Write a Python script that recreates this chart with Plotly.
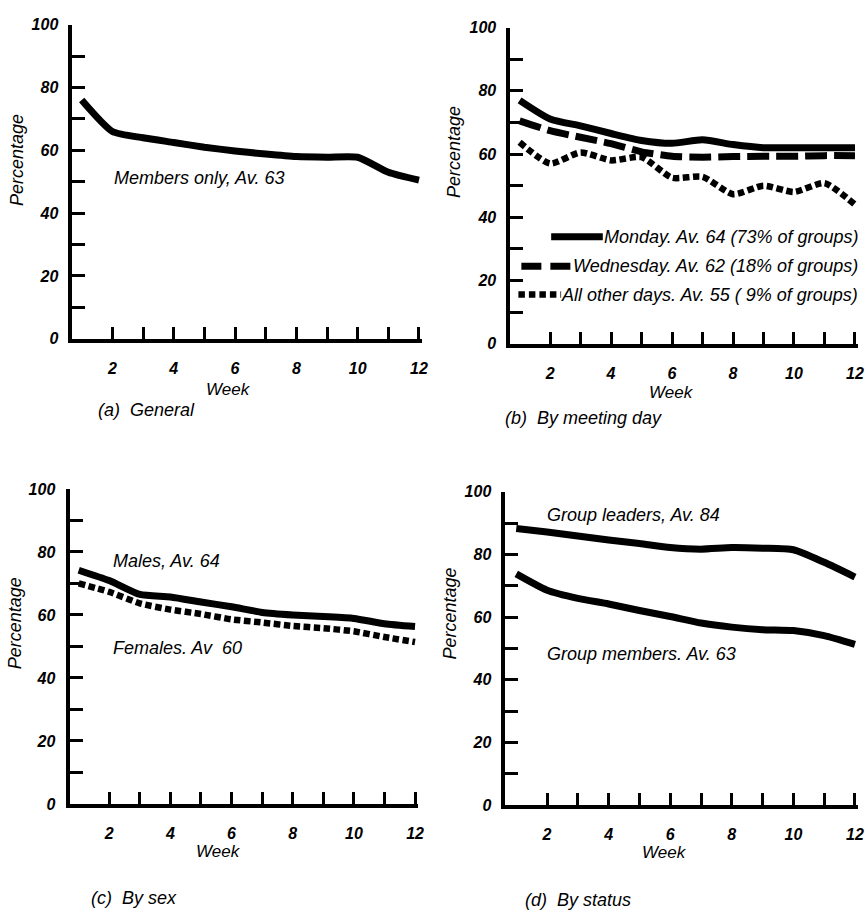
import plotly.graph_objects as go

W, H = 868, 918

weeks = list(range(1, 13))

# (a) General
general_members = [76, 66, 64, 62.5, 61, 59.8, 58.8, 58, 57.8, 57.8, 53, 50.5]

# (b) By meeting day
monday = [77, 71.1, 68.9, 66.5, 64.3, 63.4, 64.5, 63, 62, 62, 62, 62]
wednesday = [70.5, 67.4, 65.3, 63.3, 60.7, 59.3, 59, 59.2, 59.3, 59.3, 59.5, 59.5]
other_days = [63.7, 57, 60.5, 58, 59, 52.5, 52.8, 47.3, 50, 48, 50.8, 44]

# (c) By sex
males = [74.2, 70.9, 66.5, 65.7, 64.1, 62.6, 60.8, 60, 59.5, 58.9, 57.2, 56.3]
females = [70, 67.3, 63.7, 61.7, 60.3, 58.6, 57.6, 56.5, 55.8, 54.8, 53, 51.4]

# (d) By status
leaders = [88.3, 87.2, 85.9, 84.6, 83.5, 82.2, 81.7, 82.2, 82, 81.5, 77.5, 72.8]
members = [73.8, 68.6, 66, 64.2, 62.1, 60.2, 58.1, 56.8, 56, 55.7, 54.1, 51.3]

x_tickvals = list(range(2, 13))
x_ticktext = [str(w) if w % 2 == 0 else "" for w in x_tickvals]
y_tickvals = list(range(0, 101, 10))
y_ticktext = [str(v) if v % 20 == 0 else "" for v in y_tickvals]

FONT = "Liberation Sans, Arial, sans-serif"

fig = go.Figure()

# panel pixel boxes: (left, right, top(y=100), bottom(y=0)), x range start
panels = {
    "a": dict(l=73, r=425, t=17, b=337, x0=0.7),
    "b": dict(l=514, r=864, t=20, b=342, x0=0.7),
    "c": dict(l=70, r=421, t=490, b=811, x0=0.7),
    "d": dict(l=509, r=864, t=493, b=812, x0=0.65),
}

def px_x(v):
    return v / W

def px_y(v):
    return 1 - v / H

axis_ids = {"a": ("x", "y", "xaxis", "yaxis"),
            "b": ("x2", "y2", "xaxis2", "yaxis2"),
            "c": ("x3", "y3", "xaxis3", "yaxis3"),
            "d": ("x4", "y4", "xaxis4", "yaxis4")}

layout_axes = {}
for k, p in panels.items():
    xid, yid, xname, yname = axis_ids[k]
    layout_axes[xname] = dict(
        domain=[px_x(p["l"]), px_x(p["r"])], range=[p["x0"], 12.1],
        anchor=yid, showline=True, linewidth=3.5, linecolor="black",
        showgrid=False, zeroline=False, ticks="inside", ticklen=12,
        tickwidth=3, tickcolor="black", tickvals=x_tickvals, ticktext=x_ticktext,
        tickfont=dict(family=FONT, size=16, color="black", style="italic", weight="bold"),
        ticklabelstandoff=12,
    )
    layout_axes[yname] = dict(
        domain=[px_y(p["b"]), px_y(p["t"])], range=[0, 100],
        anchor=xid, showline=True, linewidth=4, linecolor="black",
        showgrid=False, zeroline=False, ticks="inside", ticklen=13,
        tickwidth=3, tickcolor="black", tickvals=y_tickvals, ticktext=y_ticktext,
        tickfont=dict(family=FONT, size=16, color="black", style="italic", weight="bold"),
        ticklabelstandoff=7,
    )

def add_line(k, ys, dash="solid", width=7):
    xid, yid, _, _ = axis_ids[k]
    fig.add_trace(go.Scatter(
        x=weeks, y=ys, mode="lines", xaxis=xid, yaxis=yid,
        line=dict(color="black", width=width, dash=dash, shape="spline", smoothing=0.6),
        showlegend=False, hoverinfo="x+y",
    ))

add_line("a", general_members)
add_line("b", monday)
add_line("b", wednesday, dash="22px,7px", width=7)
add_line("b", other_days, dash="6.5px,3.5px", width=6.5)
add_line("c", males)
add_line("c", females, dash="6.5px,3.5px", width=6.5)
add_line("d", leaders)
add_line("d", members)

fig.update_layout(**layout_axes)

annotations = []

def text(x, y, s, size=18, xanchor="center", angle=0, weight="normal"):
    annotations.append(dict(
        x=px_x(x), y=px_y(y), xref="paper", yref="paper", text=s, showarrow=False,
        xanchor=xanchor, yanchor="middle", textangle=angle,
        font=dict(family=FONT, size=size, color="black", style="italic", weight=weight),
    ))

# Percentage titles
text(17, 155, "Percentage", angle=-90)
text(457, 147, "Percentage", angle=-90)
text(15, 627, "Percentage", angle=-90)
text(453, 617, "Percentage", angle=-90)

# Week titles
text(230, 389, "Week", size=17)
text(676, 392, "Week", size=17)
text(220, 859, "Week", size=17)
text(669, 860, "Week", size=17)

# captions
text(97, 410, "(a)  General", xanchor="left")
text(507, 418, "(b)  By meeting day", xanchor="left")
text(90, 907, "(c)  By sex", xanchor="left")
text(527, 909, "(d)  By status", xanchor="left")

# in-plot labels
text(113, 173, "Members only, Av. 63", xanchor="left")
text(112, 563, "Males, Av. 64", xanchor="left")
text(112, 652, "Females. Av  60", xanchor="left")
text(549, 517, "Group leaders, Av. 84", xanchor="left")
text(549, 658, "Group members. Av. 63", xanchor="left")

# panel (b) legend
text(866, 233, "Monday. Av. 64 (73% of groups)", xanchor="right")
text(866, 263, "Wednesday. Av. 62 (18% of groups)", xanchor="right")
text(866, 292, "All other days. Av. 55 ( 9% of groups)", xanchor="right")

shapes = [
    dict(type="line", xref="paper", yref="paper", x0=px_x(555), x1=px_x(607),
         y0=px_y(233), y1=px_y(233), line=dict(color="black", width=7)),
    dict(type="line", xref="paper", yref="paper", x0=px_x(525), x1=px_x(576),
         y0=px_y(263), y1=px_y(263), line=dict(color="black", width=7, dash="20px,9px")),
    dict(type="line", xref="paper", yref="paper", x0=px_x(522), x1=px_x(565),
         y0=px_y(292), y1=px_y(292), line=dict(color="black", width=6.5, dash="6.5px,4px")),
]

fig.update_layout(
    width=W, height=H, margin=dict(l=0, r=0, t=0, b=0),
    paper_bgcolor="white", plot_bgcolor="white",
    annotations=annotations, shapes=shapes, showlegend=False,
)

fig.write_html("out.html", config={"displayModeBar": False},
               post_script="document.body.style.margin='0';document.body.style.overflow='hidden';")
